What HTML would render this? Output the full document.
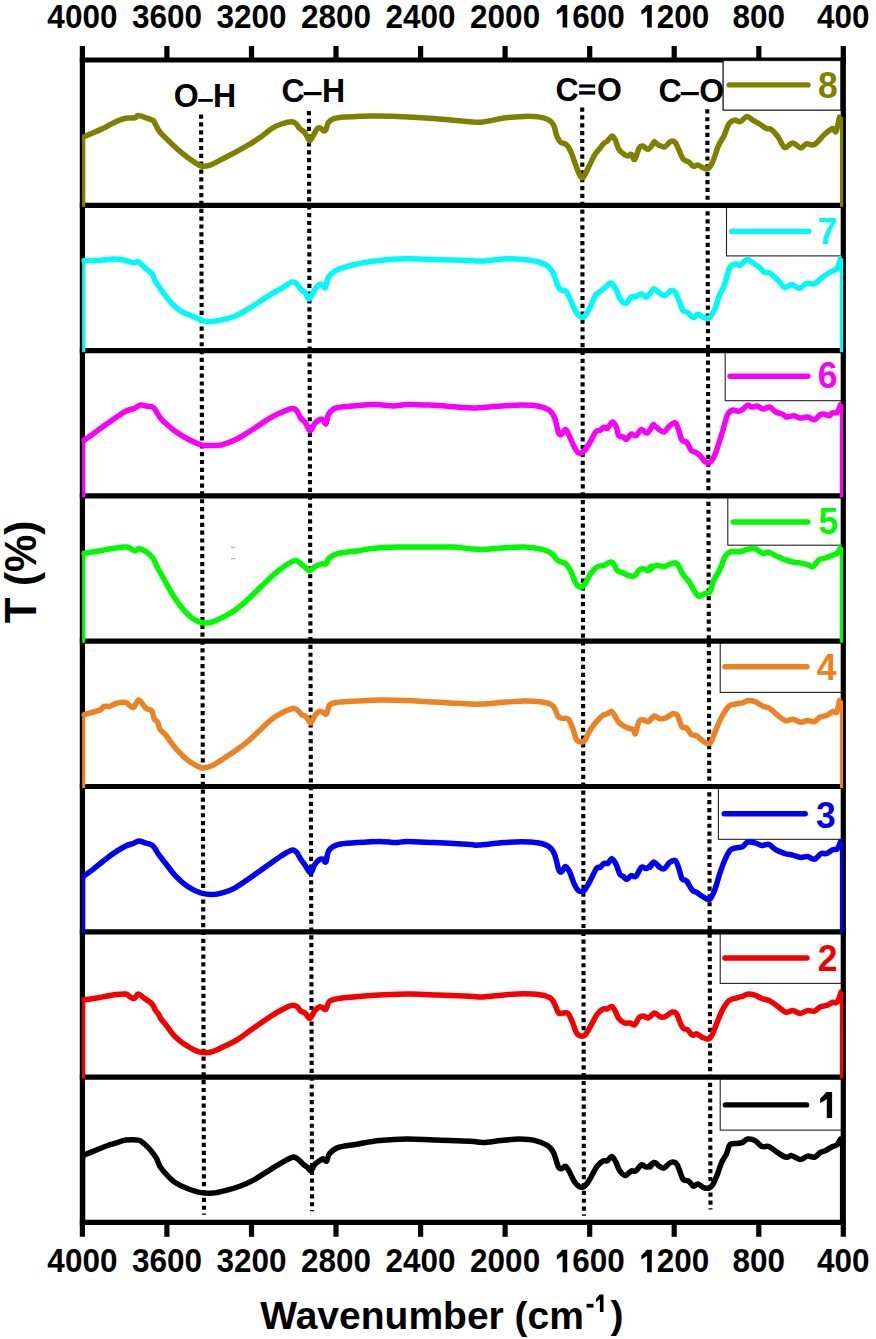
<!DOCTYPE html>
<html><head><meta charset="utf-8"><title>FTIR spectra</title>
<style>
html,body{margin:0;padding:0;background:#fff;width:876px;height:1339px;overflow:hidden}
svg{display:block}
text{font-family:"Liberation Sans",sans-serif;font-weight:bold}
</style></head><body>
<svg width="876" height="1339" viewBox="0 0 876 1339">
<rect width="876" height="1339" fill="#fff"/>
<g class="t">
<text transform="translate(82.40,27.50) scale(1,1.03)" font-size="31.5" fill="#000" text-anchor="middle">4000</text>
<text transform="translate(82.40,1272.30) scale(1,1.03)" font-size="31.5" fill="#000" text-anchor="middle">4000</text>
<text transform="translate(166.94,27.50) scale(1,1.03)" font-size="31.5" fill="#000" text-anchor="middle">3600</text>
<text transform="translate(166.94,1272.30) scale(1,1.03)" font-size="31.5" fill="#000" text-anchor="middle">3600</text>
<text transform="translate(251.49,27.50) scale(1,1.03)" font-size="31.5" fill="#000" text-anchor="middle">3200</text>
<text transform="translate(251.49,1272.30) scale(1,1.03)" font-size="31.5" fill="#000" text-anchor="middle">3200</text>
<text transform="translate(336.03,27.50) scale(1,1.03)" font-size="31.5" fill="#000" text-anchor="middle">2800</text>
<text transform="translate(336.03,1272.30) scale(1,1.03)" font-size="31.5" fill="#000" text-anchor="middle">2800</text>
<text transform="translate(420.58,27.50) scale(1,1.03)" font-size="31.5" fill="#000" text-anchor="middle">2400</text>
<text transform="translate(420.58,1272.30) scale(1,1.03)" font-size="31.5" fill="#000" text-anchor="middle">2400</text>
<text transform="translate(505.12,27.50) scale(1,1.03)" font-size="31.5" fill="#000" text-anchor="middle">2000</text>
<text transform="translate(505.12,1272.30) scale(1,1.03)" font-size="31.5" fill="#000" text-anchor="middle">2000</text>
<path d="M556.83,10.55 Q560.34,7.61 562.15,4.90 L567.23,4.90 L567.23,27.50 L562.60,27.50 L562.60,11.00 Q559.44,13.49 556.83,14.62 Z" fill="#000"/>
<text transform="translate(572.15,27.50) scale(1,1.03)" font-size="31.5" fill="#000">600</text>
<path d="M556.83,1255.35 Q560.34,1252.41 562.15,1249.70 L567.23,1249.70 L567.23,1272.30 L562.60,1272.30 L562.60,1255.80 Q559.44,1258.29 556.83,1259.42 Z" fill="#000"/>
<text transform="translate(572.15,1272.30) scale(1,1.03)" font-size="31.5" fill="#000">600</text>
<path d="M641.38,10.55 Q644.88,7.61 646.69,4.90 L651.78,4.90 L651.78,27.50 L647.14,27.50 L647.14,11.00 Q643.98,13.49 641.38,14.62 Z" fill="#000"/>
<text transform="translate(656.69,27.50) scale(1,1.03)" font-size="31.5" fill="#000">200</text>
<path d="M641.38,1255.35 Q644.88,1252.41 646.69,1249.70 L651.78,1249.70 L651.78,1272.30 L647.14,1272.30 L647.14,1255.80 Q643.98,1258.29 641.38,1259.42 Z" fill="#000"/>
<text transform="translate(656.69,1272.30) scale(1,1.03)" font-size="31.5" fill="#000">200</text>
<text transform="translate(758.76,27.50) scale(1,1.03)" font-size="31.5" fill="#000" text-anchor="middle">800</text>
<text transform="translate(758.76,1272.30) scale(1,1.03)" font-size="31.5" fill="#000" text-anchor="middle">800</text>
<text transform="translate(843.30,27.50) scale(1,1.03)" font-size="31.5" fill="#000" text-anchor="middle">400</text>
<text transform="translate(843.30,1272.30) scale(1,1.03)" font-size="31.5" fill="#000" text-anchor="middle">400</text>
</g>
<rect x="723.2" y="60.0" width="120.1" height="50.1" fill="#fff" stroke="#222" stroke-width="1.1"/>
<rect x="726.5" y="205.3" width="116.8" height="50.6" fill="#fff" stroke="#222" stroke-width="1.1"/>
<rect x="725.2" y="350.6" width="118.1" height="50.1" fill="#fff" stroke="#222" stroke-width="1.1"/>
<rect x="727.8" y="495.9" width="115.5" height="49.3" fill="#fff" stroke="#222" stroke-width="1.1"/>
<rect x="720.2" y="641.2" width="123.1" height="51.2" fill="#fff" stroke="#222" stroke-width="1.1"/>
<rect x="718.4" y="786.5" width="124.9" height="52.8" fill="#fff" stroke="#222" stroke-width="1.1"/>
<rect x="720.2" y="931.8" width="123.1" height="51.6" fill="#fff" stroke="#222" stroke-width="1.1"/>
<rect x="720.2" y="1077.1" width="123.1" height="53.0" fill="#fff" stroke="#222" stroke-width="1.1"/>
<rect x="231.00" y="546.80" width="4.20" height="1.30" fill="#b4b4b4"/>
<rect x="231.00" y="557.90" width="4.20" height="1.30" fill="#b4b4b4"/>
<line x1="201.1" y1="114.5" x2="204.0" y2="1214.7" stroke="#000" stroke-width="4.1" stroke-dasharray="4.2 3.65"/>
<line x1="308.9" y1="111.0" x2="312.1" y2="1211.2" stroke="#000" stroke-width="4.1" stroke-dasharray="4.2 3.65"/>
<line x1="582.2" y1="107.5" x2="583.9" y2="1215.7" stroke="#000" stroke-width="4.1" stroke-dasharray="4.2 3.65"/>
<line x1="707.3" y1="109.3" x2="710.5" y2="1209.5" stroke="#000" stroke-width="4.1" stroke-dasharray="4.2 3.65"/>
<line x1="79.8" y1="60.0" x2="845.9" y2="60.0" stroke="#000" stroke-width="5.2"/>
<line x1="79.8" y1="205.3" x2="845.9" y2="205.3" stroke="#000" stroke-width="5.2"/>
<line x1="79.8" y1="350.6" x2="845.9" y2="350.6" stroke="#000" stroke-width="5.2"/>
<line x1="79.8" y1="495.9" x2="845.9" y2="495.9" stroke="#000" stroke-width="5.2"/>
<line x1="79.8" y1="641.2" x2="845.9" y2="641.2" stroke="#000" stroke-width="5.2"/>
<line x1="79.8" y1="786.5" x2="845.9" y2="786.5" stroke="#000" stroke-width="5.2"/>
<line x1="79.8" y1="931.8" x2="845.9" y2="931.8" stroke="#000" stroke-width="5.2"/>
<line x1="79.8" y1="1077.1" x2="845.9" y2="1077.1" stroke="#000" stroke-width="5.2"/>
<line x1="79.8" y1="1222.4" x2="845.9" y2="1222.4" stroke="#000" stroke-width="5.2"/>
<line x1="82.4" y1="46.0" x2="82.4" y2="1236.8000000000002" stroke="#000" stroke-width="5.2"/>
<line x1="843.3" y1="46.0" x2="843.3" y2="1236.8000000000002" stroke="#000" stroke-width="5.2"/>
<line x1="166.9" y1="46.0" x2="166.9" y2="60.0" stroke="#000" stroke-width="5.2"/>
<line x1="166.9" y1="1222.4" x2="166.9" y2="1236.8000000000002" stroke="#000" stroke-width="5.2"/>
<line x1="251.5" y1="46.0" x2="251.5" y2="60.0" stroke="#000" stroke-width="5.2"/>
<line x1="251.5" y1="1222.4" x2="251.5" y2="1236.8000000000002" stroke="#000" stroke-width="5.2"/>
<line x1="336.0" y1="46.0" x2="336.0" y2="60.0" stroke="#000" stroke-width="5.2"/>
<line x1="336.0" y1="1222.4" x2="336.0" y2="1236.8000000000002" stroke="#000" stroke-width="5.2"/>
<line x1="420.6" y1="46.0" x2="420.6" y2="60.0" stroke="#000" stroke-width="5.2"/>
<line x1="420.6" y1="1222.4" x2="420.6" y2="1236.8000000000002" stroke="#000" stroke-width="5.2"/>
<line x1="505.1" y1="46.0" x2="505.1" y2="60.0" stroke="#000" stroke-width="5.2"/>
<line x1="505.1" y1="1222.4" x2="505.1" y2="1236.8000000000002" stroke="#000" stroke-width="5.2"/>
<line x1="589.7" y1="46.0" x2="589.7" y2="60.0" stroke="#000" stroke-width="5.2"/>
<line x1="589.7" y1="1222.4" x2="589.7" y2="1236.8000000000002" stroke="#000" stroke-width="5.2"/>
<line x1="674.2" y1="46.0" x2="674.2" y2="60.0" stroke="#000" stroke-width="5.2"/>
<line x1="674.2" y1="1222.4" x2="674.2" y2="1236.8000000000002" stroke="#000" stroke-width="5.2"/>
<line x1="758.8" y1="46.0" x2="758.8" y2="60.0" stroke="#000" stroke-width="5.2"/>
<line x1="758.8" y1="1222.4" x2="758.8" y2="1236.8000000000002" stroke="#000" stroke-width="5.2"/>
<rect x="723.2" y="60.6" width="117.5" height="49.5" fill="#fff" stroke="#222" stroke-width="1.1"/>
<path d="M83.7,206.8 L83.7,134.9" fill="none" stroke="#808000" stroke-width="3.2"/>
<path d="M841.5,206.8 L841.5,117.1" fill="none" stroke="#808000" stroke-width="3.2"/>
<path d="M85.7,136.5 L84.6,136.5 C87.6,135.2 97.9,130.9 102.8,128.5 C107.8,126.2 110.4,124.1 114.2,122.4 C118.1,120.7 122.2,119.0 125.7,118.3 C129.1,117.5 132.7,118.3 134.8,117.8 C136.9,117.4 136.3,115.5 138.2,115.5 C140.1,115.5 143.7,117.0 146.2,117.8 C148.7,118.6 151.5,119.5 153.1,120.5 C154.6,121.6 154.2,122.1 155.3,124.0 C156.5,125.9 157.2,128.7 159.9,132.0 C162.6,135.2 167.5,139.8 171.3,143.4 C175.1,147.0 178.9,150.5 182.7,153.7 C186.5,156.8 190.9,160.0 194.2,162.1 C197.4,164.2 199.5,165.7 202.1,166.2 C204.8,166.7 206.9,166.2 210.1,165.1 C213.4,163.9 216.6,161.9 221.6,159.4 C226.5,156.8 233.7,153.2 239.8,149.8 C245.9,146.3 252.8,142.4 258.1,138.8 C263.4,135.3 267.9,131.0 271.8,128.5 C275.7,126.1 278.1,125.1 281.4,124.0 C284.7,122.8 289.2,121.7 291.7,121.7 C294.2,121.7 294.9,122.8 296.3,124.0 C297.6,125.1 298.3,127.2 299.7,128.5 C301.0,129.9 302.9,130.4 304.2,132.0 C305.6,133.5 306.7,136.2 307.7,137.7 C308.6,139.1 309.0,141.0 310.0,140.6 C310.9,140.3 312.2,137.3 313.4,135.4 C314.5,133.5 315.7,130.5 316.8,129.2 C317.9,128.0 319.1,127.6 320.2,127.9 C321.4,128.1 322.7,130.5 323.7,130.8 C324.6,131.1 325.2,131.0 325.9,129.7 C326.7,128.3 326.9,124.7 328.2,122.8 C329.6,121.0 331.1,119.7 333.9,118.7 C336.8,117.8 338.9,117.6 345.3,117.1 C351.8,116.7 364.0,116.1 372.7,116.0 C381.5,115.9 388.3,116.1 397.9,116.4 C407.4,116.8 417.8,117.4 429.8,118.3 C441.8,119.1 461.2,121.1 470.0,121.7 C478.8,122.3 476.9,122.6 482.8,121.9 C488.8,121.3 498.8,118.7 505.7,117.8 C512.5,116.9 518.2,116.6 523.9,116.4 C529.6,116.3 535.7,116.5 539.9,117.1 C544.1,117.7 546.8,118.8 549.0,120.1 C551.3,121.4 552.3,122.4 553.6,125.1 C554.9,127.9 555.9,133.7 557.0,136.5 C558.2,139.4 558.9,140.9 560.5,142.2 C562.0,143.6 564.5,143.0 566.2,144.5 C567.9,146.0 569.2,148.1 570.7,151.4 C572.3,154.6 573.8,159.9 575.3,163.9 C576.8,167.9 578.5,173.1 579.9,175.3 C581.2,177.5 582.0,178.3 583.3,177.2 C584.6,176.0 586.0,172.2 587.9,168.5 C589.8,164.8 592.8,158.0 594.7,154.8 C596.6,151.6 597.7,151.0 599.3,149.1 C600.8,147.2 602.5,144.7 603.8,143.4 C605.2,142.0 605.9,142.3 607.3,141.1 C608.6,139.9 610.5,136.3 611.8,136.1 C613.2,135.9 614.1,137.8 615.3,140.0 C616.4,142.1 617.3,146.8 618.7,149.1 C620.0,151.4 621.7,152.5 623.2,153.7 C624.8,154.8 626.5,155.8 627.8,155.9 C629.1,156.1 630.1,153.8 631.2,154.3 C632.4,154.9 633.3,160.4 634.7,159.4 C636.0,158.3 637.9,150.2 639.2,147.9 C640.6,145.7 641.1,145.9 642.6,146.1 C644.2,146.3 646.5,149.7 648.4,149.1 C650.3,148.4 653.0,143.4 654.1,142.2 C655.1,141.1 653.7,141.7 654.6,142.2 C655.4,142.7 657.4,144.4 659.1,145.2 C660.8,146.0 662.9,147.4 664.8,146.8 C666.7,146.2 668.8,142.3 670.5,141.6 C672.3,140.8 673.8,141.0 675.1,142.2 C676.4,143.5 677.2,146.3 678.5,149.1 C679.9,151.9 681.4,156.7 683.1,158.9 C684.8,161.1 687.1,160.9 688.8,162.1 C690.5,163.3 691.9,165.7 693.4,166.2 C694.9,166.7 696.2,164.8 697.9,165.1 C699.7,165.4 701.9,167.5 703.7,168.0 C705.4,168.6 706.7,169.6 708.2,168.5 C709.7,167.4 711.1,165.4 712.8,161.6 C714.5,157.8 716.6,150.0 718.5,145.7 C720.4,141.3 722.5,139.0 724.2,135.4 C725.9,131.8 727.1,126.5 728.8,124.0 C730.5,121.4 732.6,120.5 734.5,120.1 C736.4,119.7 738.1,122.3 740.2,121.7 C742.3,121.1 744.9,116.7 747.0,116.4 C749.1,116.2 750.6,118.8 752.7,120.1 C754.8,121.3 757.3,122.6 759.6,124.0 C761.9,125.4 764.5,127.7 766.4,128.5 C768.3,129.4 769.1,127.9 771.0,129.2 C772.9,130.6 775.6,133.5 777.9,136.5 C780.1,139.6 782.2,146.4 784.7,147.5 C787.2,148.6 790.0,142.8 792.7,142.9 C795.4,143.0 798.4,147.8 800.7,147.9 C803.0,148.1 804.1,144.4 806.4,143.8 C808.7,143.3 811.3,146.1 814.4,144.5 C817.4,142.9 821.6,136.9 824.7,134.2 C827.7,131.6 830.7,129.0 832.6,128.5 C834.6,128.1 834.9,133.4 836.1,131.5 C837.2,129.6 838.9,119.5 839.5,117.1 L841.5,117.1" fill="none" stroke="#808000" stroke-width="5.5" stroke-linejoin="round" stroke-linecap="butt"/>
<path d="M83.7,352.1 L83.7,258.9" fill="none" stroke="#00FAFA" stroke-width="3.2"/>
<path d="M841.5,352.1 L841.5,258.3" fill="none" stroke="#00FAFA" stroke-width="3.2"/>
<path d="M85.7,260.5 L84.1,260.5 C86.5,260.5 93.2,260.8 98.3,260.5 C103.3,260.3 109.7,258.9 114.2,258.9 C118.8,258.9 122.4,259.9 125.7,260.5 C128.9,261.2 131.6,262.6 133.7,262.8 C135.7,263.0 136.5,261.0 138.2,261.7 C139.9,262.4 141.6,264.9 143.9,266.9 C146.2,269.0 150.0,271.4 151.9,273.8 C153.8,276.1 153.6,278.2 155.3,281.1 C157.1,284.0 159.5,287.8 162.2,291.4 C164.9,295.0 168.3,299.6 171.3,302.8 C174.4,306.0 177.0,308.6 180.5,310.8 C183.9,313.0 188.4,314.5 191.9,316.0 C195.3,317.5 198.2,319.0 201.0,319.9 C203.9,320.9 205.6,321.7 209.0,321.7 C212.4,321.7 217.2,320.9 221.6,319.9 C225.9,319.0 230.7,317.9 235.3,316.0 C239.8,314.1 243.2,312.0 248.9,308.5 C254.7,305.0 264.6,298.1 270.0,294.8 C275.4,291.4 277.8,290.5 281.4,288.4 C285.0,286.3 289.2,283.1 291.7,282.2 C294.2,281.4 294.7,282.2 296.3,283.4 C297.8,284.5 299.3,287.5 300.8,289.1 C302.3,290.7 304.0,291.3 305.4,293.0 C306.8,294.6 307.9,299.1 309.3,298.9 C310.6,298.8 311.9,294.3 313.4,292.1 C314.8,289.8 316.5,286.9 317.9,285.7 C319.4,284.4 320.8,284.1 322.1,284.5 C323.3,284.9 324.2,289.1 325.3,287.9 C326.3,286.8 326.6,280.5 328.2,277.7 C329.9,274.8 331.8,272.7 335.1,270.8 C338.3,268.9 342.5,267.7 347.6,266.3 C352.8,264.8 359.0,263.5 365.9,262.4 C372.7,261.3 381.9,260.2 388.7,259.6 C395.6,259.0 399.4,258.8 407.0,258.7 C414.6,258.7 423.9,259.1 434.4,259.4 C444.9,259.7 461.9,260.3 470.0,260.5 C478.1,260.8 476.9,261.3 482.8,261.0 C488.8,260.7 498.8,259.0 505.7,258.7 C512.5,258.5 518.6,258.9 523.9,259.4 C529.3,259.9 533.6,260.5 537.6,261.7 C541.6,262.8 545.2,264.2 547.9,266.3 C550.6,268.3 551.9,270.8 553.6,274.2 C555.3,277.7 556.8,284.1 558.2,286.8 C559.5,289.5 560.3,289.5 561.6,290.2 C562.9,291.0 564.6,289.7 566.2,291.4 C567.7,293.1 569.2,297.3 570.7,300.5 C572.3,303.7 573.8,308.1 575.3,310.8 C576.8,313.4 578.3,315.5 579.9,316.5 C581.4,317.4 582.7,318.0 584.4,316.5 C586.1,315.0 588.2,311.0 590.1,307.4 C592.0,303.7 594.1,297.5 595.8,294.8 C597.6,292.1 598.9,292.6 600.4,291.4 C601.9,290.2 603.3,288.9 605.0,287.5 C606.7,286.1 609.0,282.8 610.7,282.9 C612.4,283.0 613.7,285.4 615.3,287.9 C616.8,290.5 618.1,295.6 619.8,298.2 C621.5,300.8 623.6,303.7 625.5,303.5 C627.4,303.3 629.5,298.2 631.2,297.1 C632.9,295.9 634.1,297.2 635.8,296.6 C637.5,296.1 639.8,293.6 641.5,293.7 C643.2,293.7 644.2,297.7 646.1,297.1 C648.0,296.4 651.5,291.1 652.9,289.8 C654.3,288.4 653.5,288.6 654.6,289.1 C655.6,289.5 657.4,291.4 659.1,292.5 C660.8,293.7 662.9,296.2 664.8,295.9 C666.7,295.6 668.8,291.3 670.5,290.7 C672.3,290.0 673.8,290.6 675.1,292.1 C676.4,293.5 677.2,296.2 678.5,299.4 C679.9,302.5 681.6,308.6 683.1,310.8 C684.6,313.0 686.0,311.5 687.7,312.6 C689.4,313.7 691.7,317.4 693.4,317.6 C695.1,317.9 696.2,314.2 697.9,314.2 C699.7,314.2 701.8,317.1 703.7,317.6 C705.6,318.2 707.5,319.1 709.4,317.6 C711.3,316.1 713.4,312.3 715.1,308.5 C716.8,304.7 718.1,298.6 719.6,294.8 C721.2,291.0 722.5,290.2 724.2,285.7 C725.9,281.1 728.0,271.0 729.9,267.4 C731.8,263.8 733.9,264.4 735.6,264.0 C737.3,263.6 738.3,265.9 740.2,265.1 C742.1,264.4 744.9,259.8 747.0,259.4 C749.1,259.0 750.6,261.5 752.7,262.8 C754.8,264.2 757.7,265.9 759.6,267.4 C761.5,268.9 762.4,271.0 764.2,272.0 C765.9,272.9 767.6,271.8 769.9,273.1 C772.1,274.4 775.4,277.6 777.9,280.0 C780.3,282.4 782.4,286.7 784.7,287.5 C787.0,288.2 789.1,284.4 791.6,284.5 C794.0,284.7 797.1,288.6 799.5,288.4 C802.0,288.2 803.9,284.1 806.4,283.4 C808.9,282.6 811.5,285.0 814.4,283.8 C817.2,282.7 820.5,278.7 823.5,276.5 C826.6,274.4 830.4,272.2 832.6,270.8 C834.9,269.5 835.9,270.6 837.2,268.5 C838.5,266.4 840.1,260.0 840.6,258.3 L841.5,258.3" fill="none" stroke="#00FAFA" stroke-width="5.5" stroke-linejoin="round" stroke-linecap="butt"/>
<path d="M83.7,497.4 L83.7,438.7" fill="none" stroke="#FA00FA" stroke-width="3.2"/>
<path d="M841.5,497.4 L841.5,404.4" fill="none" stroke="#FA00FA" stroke-width="3.2"/>
<path d="M85.7,440.3 L84.1,440.3 C85.7,439.1 90.6,435.6 93.7,433.4 C96.8,431.2 99.4,429.2 102.8,426.8 C106.3,424.3 110.4,421.4 114.2,418.8 C118.1,416.2 122.2,413.0 125.7,411.3 C129.1,409.5 132.4,409.3 134.8,408.3 C137.2,407.3 137.9,405.5 139.8,405.1 C141.7,404.7 144.0,405.6 146.2,406.0 C148.4,406.4 151.3,406.4 153.1,407.4 C154.8,408.4 155.3,410.3 156.5,411.9 C157.6,413.6 158.2,415.4 159.9,417.4 C161.6,419.5 164.1,421.9 166.8,424.3 C169.4,426.7 172.5,429.4 175.9,431.8 C179.3,434.2 183.1,436.5 187.3,438.7 C191.5,440.8 196.8,443.7 201.0,444.8 C205.2,446.0 209.0,445.5 212.4,445.5 C215.8,445.5 217.7,445.8 221.6,444.8 C225.4,443.9 230.7,442.0 235.3,439.8 C239.8,437.6 243.2,435.4 248.9,431.8 C254.7,428.2 264.6,421.3 270.0,418.1 C275.4,414.9 277.8,414.0 281.4,412.4 C285.0,410.8 289.2,408.9 291.7,408.5 C294.2,408.1 294.7,408.5 296.3,410.1 C297.8,411.7 299.3,416.0 300.8,418.1 C302.3,420.2 303.9,420.6 305.4,422.7 C306.9,424.8 308.4,430.5 310.0,430.7 C311.5,430.9 313.0,425.6 314.5,423.8 C316.0,422.0 317.7,420.4 319.1,419.7 C320.5,419.0 321.8,419.0 323.0,419.7 C324.1,420.4 324.9,424.8 325.9,423.8 C326.9,422.8 327.2,416.2 328.9,413.5 C330.6,410.9 332.3,409.1 336.2,407.8 C340.1,406.6 345.7,406.6 352.2,406.0 C358.7,405.4 368.2,404.4 375.0,404.4 C381.9,404.4 388.0,406.0 393.3,406.0 C398.6,406.0 400.9,404.6 407.0,404.4 C413.1,404.3 419.3,404.5 429.8,405.1 C440.3,405.7 461.9,407.4 470.0,407.8 C478.1,408.3 473.1,408.1 478.3,407.8 C483.4,407.5 493.9,406.5 501.1,406.0 C508.3,405.5 515.6,404.9 521.6,404.9 C527.7,404.9 533.1,405.1 537.6,406.0 C542.2,406.9 546.2,408.1 549.0,410.1 C551.9,412.1 553.2,414.3 554.7,418.1 C556.3,421.9 557.5,430.3 558.6,432.9 C559.8,435.6 560.5,434.7 561.6,434.1 C562.7,433.5 564.1,429.1 565.5,429.5 C566.8,429.9 568.1,433.5 569.6,436.4 C571.0,439.2 572.6,443.9 574.2,446.6 C575.7,449.4 577.0,452.4 578.7,453.0 C580.4,453.7 582.5,452.6 584.4,450.8 C586.3,448.9 588.2,445.2 590.1,442.1 C592.0,438.9 594.1,433.8 595.8,431.8 C597.6,429.8 599.1,431.0 600.4,430.2 C601.7,429.4 602.7,427.5 603.8,427.2 C605.0,426.9 605.8,429.3 607.3,428.4 C608.7,427.5 611.0,422.2 612.5,422.0 C614.0,421.8 615.4,425.0 616.4,427.2 C617.4,429.5 617.5,434.0 618.7,435.7 C619.8,437.3 621.9,436.4 623.2,437.1 C624.6,437.7 625.3,439.8 626.7,439.3 C628.0,438.8 629.7,434.7 631.2,434.1 C632.8,433.5 634.1,436.4 635.8,435.7 C637.5,434.9 639.6,430.0 641.5,429.5 C643.4,429.1 645.3,433.7 647.2,432.9 C649.1,432.2 651.7,426.2 652.9,425.0 C654.1,423.7 653.5,424.9 654.6,425.6 C655.6,426.4 657.5,428.5 659.1,429.5 C660.7,430.5 662.4,432.4 664.2,431.8 C665.9,431.2 667.6,427.6 669.4,426.1 C671.2,424.6 673.6,422.1 675.1,422.7 C676.6,423.2 677.4,426.6 678.5,429.5 C679.7,432.5 680.6,438.2 682.0,440.3 C683.3,442.3 685.0,440.4 686.5,442.1 C688.1,443.7 689.6,448.4 691.1,450.1 C692.6,451.8 694.1,451.4 695.7,452.4 C697.2,453.3 698.7,454.3 700.2,455.8 C701.8,457.3 703.3,460.3 704.8,461.5 C706.3,462.6 707.8,463.4 709.4,462.6 C710.9,461.9 712.4,460.0 713.9,456.9 C715.4,453.9 717.0,448.9 718.5,444.4 C720.0,439.8 721.5,434.5 723.1,429.5 C724.6,424.6 726.1,417.9 727.6,414.7 C729.1,411.4 730.5,410.7 732.2,410.1 C733.9,409.5 736.2,411.3 737.9,411.3 C739.6,411.2 740.8,410.7 742.5,409.7 C744.1,408.6 746.2,405.5 747.7,405.1 C749.2,404.7 750.0,407.0 751.6,407.1 C753.2,407.3 755.4,405.7 757.3,406.0 C759.2,406.3 760.9,408.8 763.0,409.0 C765.1,409.2 767.8,406.7 769.9,407.1 C772.0,407.6 773.5,410.8 775.6,411.9 C777.7,413.1 780.5,413.4 782.4,414.2 C784.3,415.1 785.1,416.7 787.0,417.0 C788.9,417.2 791.6,415.6 793.8,415.8 C796.1,416.0 798.4,417.9 800.7,418.1 C803.0,418.3 805.3,416.7 807.5,417.0 C809.8,417.2 812.3,420.1 814.4,419.7 C816.5,419.3 818.4,415.6 820.1,414.7 C821.8,413.8 823.1,414.0 824.7,414.2 C826.2,414.4 827.9,416.1 829.2,415.8 C830.6,415.6 831.3,413.4 832.6,412.9 C834.0,412.3 835.9,413.8 837.2,412.4 C838.5,411.0 840.1,405.7 840.6,404.4 L841.5,404.4" fill="none" stroke="#FA00FA" stroke-width="5.5" stroke-linejoin="round" stroke-linecap="butt"/>
<path d="M83.7,642.7 L83.7,551.7" fill="none" stroke="#00FA00" stroke-width="3.2"/>
<path d="M841.5,642.7 L841.5,547.1" fill="none" stroke="#00FA00" stroke-width="3.2"/>
<path d="M85.7,553.3 L84.1,553.3 C86.5,552.9 93.2,551.8 98.3,551.0 C103.3,550.2 109.5,548.9 114.2,548.3 C119.0,547.6 123.4,546.7 126.8,547.1 C130.2,547.5 132.7,550.3 134.8,550.5 C136.9,550.8 137.5,548.5 139.4,548.7 C141.3,548.9 143.9,550.1 146.2,551.7 C148.5,553.3 151.2,555.9 153.1,558.5 C155.0,561.2 155.7,564.1 157.6,567.7 C159.5,571.3 161.8,575.5 164.5,580.2 C167.1,585.0 170.6,591.5 173.6,596.2 C176.7,601.0 179.7,605.2 182.7,608.8 C185.8,612.4 188.8,615.6 191.9,617.9 C194.9,620.2 198.0,621.7 201.0,622.5 C204.0,623.2 206.7,623.2 210.1,622.5 C213.6,621.7 217.4,620.0 221.6,617.9 C225.7,615.8 230.7,613.1 235.3,609.9 C239.8,606.7 243.2,603.8 248.9,598.5 C254.7,593.2 264.6,583.0 270.0,577.9 C275.4,572.9 277.4,571.2 281.4,568.4 C285.4,565.5 291.1,561.9 294.0,560.8 C296.8,559.8 296.8,561.0 298.5,562.0 C300.3,562.9 302.5,565.1 304.2,566.5 C306.0,568.0 307.6,570.6 309.3,570.6 C311.0,570.7 312.5,568.1 314.5,567.0 C316.5,565.8 319.5,564.3 321.4,563.8 C323.3,563.3 324.6,564.8 325.9,563.8 C327.3,562.8 327.3,559.6 329.4,557.9 C331.5,556.1 333.9,554.4 338.5,553.3 C343.1,552.1 350.7,551.8 356.8,551.0 C362.8,550.2 368.2,548.9 375.0,548.3 C381.9,547.6 389.5,547.3 397.9,547.1 C406.2,546.9 416.1,547.1 425.3,547.1 C434.4,547.1 445.2,546.9 452.6,547.1 C460.1,547.4 465.0,548.3 470.0,548.7 C475.0,549.1 476.9,549.6 482.8,549.4 C488.8,549.3 498.8,548.2 505.7,547.8 C512.5,547.4 517.8,546.9 523.9,547.1 C530.0,547.4 537.6,548.4 542.2,549.4 C546.8,550.4 548.7,551.4 551.3,553.3 C554.0,555.2 555.9,559.2 558.2,560.8 C560.5,562.5 562.9,561.4 565.0,563.1 C567.1,564.8 569.0,567.9 570.7,571.1 C572.4,574.3 573.8,579.4 575.3,582.1 C576.8,584.7 578.3,586.6 579.9,587.1 C581.4,587.5 582.7,586.9 584.4,584.8 C586.1,582.7 588.0,577.5 590.1,574.5 C592.2,571.6 594.7,568.5 597.0,567.0 C599.3,565.5 601.4,566.2 603.8,565.4 C606.3,564.6 609.5,561.1 611.8,562.0 C614.1,562.8 615.6,568.8 617.5,570.6 C619.4,572.5 621.3,572.1 623.2,572.9 C625.1,573.8 627.0,575.2 628.9,575.7 C630.9,576.1 632.9,576.6 634.7,575.7 C636.4,574.7 637.7,571.1 639.2,570.0 C640.7,568.8 642.3,568.7 643.8,568.8 C645.3,568.9 646.6,571.1 648.4,570.6 C650.1,570.2 653.8,566.7 654.1,566.1 C654.3,565.5 649.5,567.1 650.0,567.0 C650.5,566.9 654.6,565.5 656.8,565.4 C659.1,565.3 661.0,566.9 663.7,566.5 C666.4,566.1 670.5,563.5 672.8,563.1 C675.1,562.7 675.7,562.3 677.4,564.2 C679.1,566.1 681.2,571.7 683.1,574.5 C685.0,577.4 686.9,578.6 688.8,581.4 C690.7,584.1 692.8,588.7 694.5,591.2 C696.2,593.7 697.4,595.8 699.1,596.2 C700.8,596.6 703.0,594.2 704.8,593.5 C706.6,592.8 708.3,594.3 709.8,592.1 C711.3,589.9 712.3,583.9 713.9,580.2 C715.6,576.5 717.7,573.9 719.6,570.0 C721.5,566.0 723.4,559.3 725.3,556.3 C727.2,553.2 728.6,552.5 731.1,551.7 C733.5,550.9 737.5,552.1 740.2,551.7 C742.8,551.3 744.6,549.9 747.0,549.4 C749.5,548.9 752.4,548.1 755.0,548.7 C757.7,549.4 760.7,552.7 763.0,553.3 C765.3,553.9 766.4,551.7 768.7,552.1 C771.0,552.6 774.0,555.0 776.7,556.3 C779.4,557.5 782.0,558.7 784.7,559.7 C787.4,560.6 790.0,561.4 792.7,562.0 C795.4,562.5 798.2,562.6 800.7,563.1 C803.2,563.6 805.4,564.1 807.5,564.7 C809.6,565.3 811.3,567.4 813.2,566.5 C815.1,565.7 816.9,561.1 818.9,559.7 C821.0,558.2 823.5,558.6 825.8,557.9 C828.1,557.1 830.7,556.0 832.6,555.1 C834.6,554.3 836.3,554.2 837.7,552.8 C839.0,551.5 840.1,548.1 840.6,547.1 L841.5,547.1" fill="none" stroke="#00FA00" stroke-width="5.5" stroke-linejoin="round" stroke-linecap="butt"/>
<path d="M83.7,788.0 L83.7,713.1" fill="none" stroke="#ED8225" stroke-width="3.2"/>
<path d="M841.5,788.0 L841.5,700.5" fill="none" stroke="#ED8225" stroke-width="3.2"/>
<path d="M85.7,714.7 L84.1,714.7 C85.7,714.2 91.0,712.8 93.7,712.0 C96.4,711.1 98.8,710.6 100.5,709.7 C102.3,708.7 102.5,706.8 104.0,706.3 C105.5,705.7 107.6,706.8 109.7,706.3 C111.8,705.8 113.9,703.9 116.5,703.3 C119.2,702.6 123.6,702.1 125.7,702.4 C127.8,702.7 127.8,704.3 129.1,705.1 C130.4,706.0 132.1,708.2 133.7,707.4 C135.2,706.6 136.9,700.9 138.2,700.1 C139.6,699.3 140.3,701.4 141.6,702.8 C143.0,704.2 144.5,707.2 146.2,708.5 C147.9,709.9 150.6,709.1 151.9,710.8 C153.2,712.5 153.2,716.9 154.2,718.8 C155.2,720.7 156.7,720.5 157.6,722.2 C158.6,723.9 158.6,727.0 159.9,729.1 C161.2,731.2 163.7,732.5 165.6,734.8 C167.5,737.1 169.2,740.0 171.3,742.8 C173.4,745.5 175.5,748.4 178.2,751.2 C180.8,754.1 184.3,757.5 187.3,759.9 C190.4,762.3 193.8,764.3 196.4,765.6 C199.1,766.9 200.6,767.9 203.3,767.9 C206.0,767.9 209.4,766.9 212.4,765.6 C215.5,764.3 217.7,762.4 221.6,759.9 C225.4,757.4 230.7,754.0 235.3,750.8 C239.8,747.5 243.2,745.5 248.9,740.5 C254.7,735.5 264.6,725.2 270.0,720.6 C275.4,716.1 277.6,715.1 281.4,713.1 C285.2,711.1 290.2,709.0 292.8,708.5 C295.5,708.0 295.9,709.1 297.4,710.1 C298.9,711.2 300.4,713.6 302.0,714.7 C303.5,715.8 305.1,715.6 306.5,717.0 C308.0,718.4 309.3,723.1 310.6,722.9 C312.0,722.8 313.1,718.0 314.5,716.1 C315.9,714.2 317.7,712.1 319.1,711.5 C320.5,710.9 321.7,712.0 323.0,712.4 C324.2,712.8 325.5,715.1 326.6,713.8 C327.8,712.5 327.8,706.6 329.8,704.7 C331.8,702.7 334.0,702.8 338.5,702.1 C343.0,701.5 349.9,701.3 356.8,701.0 C363.6,700.7 371.2,700.2 379.6,700.1 C388.0,700.0 397.9,700.2 407.0,700.5 C416.1,700.9 423.9,701.6 434.4,702.1 C444.9,702.7 461.9,703.7 470.0,704.0 C478.1,704.3 476.9,704.3 482.8,704.0 C488.8,703.7 498.8,702.6 505.7,702.1 C512.5,701.7 518.2,701.1 523.9,701.0 C529.6,700.9 535.5,701.2 539.9,701.7 C544.3,702.2 547.7,702.8 550.2,704.0 C552.7,705.1 553.4,706.4 554.7,708.5 C556.1,710.6 556.8,714.9 558.2,716.5 C559.5,718.2 561.0,717.9 562.7,718.4 C564.5,718.8 566.7,717.5 568.4,719.3 C570.2,721.1 571.7,725.7 573.0,729.1 C574.3,732.4 575.1,737.2 576.4,739.4 C577.8,741.5 579.6,742.0 581.0,742.1 C582.5,742.2 583.6,741.8 585.1,739.8 C586.6,737.8 588.2,733.3 590.1,730.2 C592.1,727.1 594.9,723.6 597.0,721.1 C599.1,718.6 601.0,716.6 602.7,715.4 C604.4,714.2 605.7,714.4 607.3,713.8 C608.8,713.1 610.5,711.1 611.8,711.5 C613.2,712.0 614.1,714.7 615.3,716.5 C616.4,718.3 617.3,720.7 618.7,722.2 C620.0,723.8 621.7,724.7 623.2,725.7 C624.8,726.6 626.1,727.3 627.8,727.9 C629.5,728.6 632.3,728.8 633.5,729.8 C634.8,730.7 634.4,735.1 635.3,733.7 C636.3,732.2 637.8,723.4 639.2,721.1 C640.6,718.8 642.3,719.9 643.8,720.0 C645.3,720.0 646.6,722.2 648.4,721.6 C650.1,720.9 653.8,716.3 654.1,716.1 C654.3,715.8 649.9,720.0 650.0,720.0 C650.1,720.0 652.9,716.3 654.6,716.1 C656.3,715.9 658.4,718.5 660.3,718.8 C662.2,719.1 663.9,718.5 666.0,717.7 C668.1,716.8 670.9,714.2 672.8,713.8 C674.7,713.4 675.9,713.2 677.4,715.4 C678.9,717.6 680.4,724.7 682.0,726.8 C683.5,728.9 685.0,726.7 686.5,727.9 C688.1,729.2 689.4,733.0 691.1,734.3 C692.8,735.7 695.1,735.0 696.8,735.9 C698.5,736.8 699.7,738.6 701.4,739.8 C703.1,741.1 705.4,743.2 707.1,743.5 C708.7,743.8 709.7,744.0 711.2,741.6 C712.7,739.2 714.4,733.3 716.2,729.1 C718.0,724.9 719.8,720.3 721.9,716.5 C724.0,712.7 726.5,708.3 728.8,706.3 C731.1,704.2 733.3,704.5 735.6,704.0 C737.9,703.4 740.4,703.4 742.5,702.8 C744.6,702.3 746.1,700.7 748.2,700.5 C750.3,700.4 752.5,700.7 755.0,701.7 C757.5,702.6 760.5,705.1 763.0,706.3 C765.5,707.4 767.4,707.0 769.9,708.5 C772.3,710.1 775.2,713.4 777.9,715.4 C780.5,717.4 783.4,720.0 785.8,720.6 C788.3,721.3 790.2,719.0 792.7,719.3 C795.2,719.5 798.2,722.0 800.7,722.2 C803.2,722.5 805.3,720.8 807.5,720.6 C809.8,720.5 812.3,722.2 814.4,721.6 C816.5,720.9 818.0,718.0 820.1,717.0 C822.2,716.0 824.8,716.3 826.9,715.4 C829.0,714.5 831.0,712.1 832.6,711.5 C834.3,710.9 835.6,713.8 836.8,712.0 C837.9,710.1 839.0,702.5 839.5,700.5 L841.5,700.5" fill="none" stroke="#ED8225" stroke-width="5.5" stroke-linejoin="round" stroke-linecap="butt"/>
<path d="M83.7,933.3 L83.7,874.1" fill="none" stroke="#0000F5" stroke-width="3.2"/>
<path d="M841.5,933.3 L841.5,841.4" fill="none" stroke="#0000F5" stroke-width="3.2"/>
<path d="M85.7,875.7 L84.1,875.7 C85.7,874.5 90.6,871.2 93.7,868.8 C96.8,866.5 99.4,864.2 102.8,861.5 C106.3,858.9 110.4,855.4 114.2,852.9 C118.1,850.3 122.4,847.6 125.7,846.0 C128.9,844.4 131.4,844.1 133.7,843.3 C135.9,842.4 137.0,841.1 138.9,841.0 C140.8,840.9 142.9,842.1 145.1,842.8 C147.2,843.5 150.2,844.1 151.9,845.1 C153.6,846.1 154.2,847.4 155.3,849.0 C156.5,850.6 156.9,852.0 158.8,854.7 C160.7,857.3 163.9,861.3 166.8,865.0 C169.6,868.6 172.5,872.8 175.9,876.4 C179.3,879.9 183.1,883.4 187.3,886.2 C191.5,889.0 196.8,891.6 201.0,893.0 C205.2,894.4 208.6,894.7 212.4,894.6 C216.2,894.5 220.0,893.5 223.8,892.4 C227.6,891.2 231.1,890.1 235.3,887.8 C239.4,885.5 243.2,882.6 248.9,878.7 C254.7,874.7 264.6,867.6 270.0,863.8 C275.4,860.0 277.8,858.1 281.4,855.8 C285.0,853.5 289.2,850.8 291.7,850.1 C294.2,849.5 294.7,850.4 296.3,851.9 C297.8,853.5 299.3,857.0 300.8,859.2 C302.3,861.5 303.8,863.4 305.4,865.6 C307.0,867.9 309.1,873.1 310.6,872.9 C312.2,872.8 313.1,867.2 314.5,865.0 C315.9,862.7 317.7,860.7 319.1,859.7 C320.5,858.8 321.8,858.9 323.0,859.2 C324.1,859.6 324.9,863.4 325.9,862.0 C326.9,860.5 326.8,853.5 328.9,850.6 C331.0,847.6 333.9,845.7 338.5,844.4 C343.1,843.1 349.9,843.1 356.8,842.6 C363.6,842.1 373.1,841.4 379.6,841.4 C386.1,841.4 391.0,842.6 395.6,842.6 C400.1,842.6 400.5,841.4 407.0,841.4 C413.5,841.4 423.9,842.1 434.4,842.6 C444.9,843.1 462.7,844.0 470.0,844.4 C477.3,844.8 473.1,845.4 478.3,845.1 C483.4,844.8 493.9,843.4 501.1,842.8 C508.3,842.2 515.6,841.7 521.6,841.7 C527.7,841.7 533.1,842.0 537.6,842.8 C542.2,843.6 546.2,844.7 549.0,846.7 C551.9,848.7 553.2,850.9 554.7,854.7 C556.3,858.5 557.5,866.7 558.6,869.5 C559.8,872.4 560.5,872.3 561.6,871.8 C562.7,871.3 564.1,866.6 565.5,866.6 C566.8,866.6 568.1,868.9 569.6,871.8 C571.0,874.7 572.6,880.7 574.2,883.9 C575.7,887.1 577.0,889.7 578.7,890.8 C580.4,891.8 582.5,891.7 584.4,890.1 C586.3,888.4 588.1,884.6 590.1,880.9 C592.2,877.3 594.8,870.7 596.5,868.4 C598.2,866.1 599.2,868.1 600.4,867.2 C601.6,866.4 602.6,864.0 603.8,863.4 C605.1,862.7 606.6,864.1 607.9,863.4 C609.3,862.6 610.4,858.5 611.8,858.8 C613.2,859.1 615.1,862.4 616.4,865.0 C617.7,867.5 618.7,872.2 619.8,874.1 C621.0,876.0 622.1,875.5 623.2,876.4 C624.4,877.2 625.3,879.5 626.7,879.3 C628.0,879.2 629.7,876.2 631.2,875.7 C632.8,875.2 634.1,877.8 635.8,876.4 C637.5,875.0 639.7,868.6 641.5,867.2 C643.3,865.9 644.7,869.3 646.8,868.4 C648.8,867.5 653.1,862.2 653.6,862.0 C654.1,861.8 649.8,867.1 650.0,867.2 C650.2,867.4 653.0,862.7 654.6,862.7 C656.2,862.7 658.0,866.2 659.6,867.2 C661.2,868.3 662.5,869.6 664.2,868.8 C665.8,868.1 667.6,864.1 669.4,862.7 C671.2,861.3 673.6,859.6 675.1,860.4 C676.6,861.1 677.4,864.2 678.5,867.2 C679.7,870.3 680.6,876.4 682.0,878.7 C683.3,880.9 684.8,879.0 686.5,880.9 C688.2,882.8 690.5,888.2 692.2,890.1 C693.9,892.0 695.3,891.4 696.8,892.4 C698.3,893.3 699.7,894.6 701.4,895.8 C703.1,896.9 705.6,898.7 707.1,899.2 C708.6,899.7 709.2,900.2 710.5,898.5 C711.8,896.8 713.5,893.0 715.1,888.9 C716.6,884.9 718.1,878.7 719.6,874.1 C721.2,869.5 722.5,865.4 724.2,861.5 C725.9,857.6 728.0,852.9 729.9,850.6 C731.8,848.3 733.5,848.5 735.6,847.8 C737.7,847.2 740.4,847.6 742.5,846.7 C744.5,845.7 745.6,842.8 747.7,842.1 C749.8,841.5 752.7,842.2 755.0,842.8 C757.4,843.4 759.6,845.3 761.9,845.5 C764.2,845.8 766.4,843.7 768.7,844.4 C771.0,845.1 772.9,848.1 775.6,849.7 C778.2,851.2 781.8,852.6 784.7,853.5 C787.6,854.5 790.0,854.5 792.7,855.1 C795.4,855.8 798.2,857.2 800.7,857.4 C803.2,857.6 805.3,856.2 807.5,856.5 C809.8,856.8 812.1,859.7 814.4,859.2 C816.7,858.8 819.1,854.5 821.2,853.5 C823.3,852.6 825.0,854.2 826.9,853.5 C828.8,852.9 830.9,850.4 832.6,849.7 C834.4,848.9 835.9,850.3 837.2,849.0 C838.5,847.6 840.1,842.7 840.6,841.4 L841.5,841.4" fill="none" stroke="#0000F5" stroke-width="5.5" stroke-linejoin="round" stroke-linecap="butt"/>
<path d="M83.7,1078.6 L83.7,998.1" fill="none" stroke="#F50000" stroke-width="3.2"/>
<path d="M841.5,1078.6 L841.5,991.7" fill="none" stroke="#F50000" stroke-width="3.2"/>
<path d="M85.7,999.7 L84.1,999.7 C85.7,999.5 90.6,999.0 93.7,998.5 C96.8,998.1 99.4,997.6 102.8,996.9 C106.3,996.3 110.4,995.2 114.2,994.7 C118.1,994.2 123.0,993.6 125.7,994.0 C128.3,994.4 128.8,996.2 130.2,996.9 C131.7,997.7 133.0,999.0 134.3,998.5 C135.7,998.0 136.6,994.1 138.2,994.0 C139.8,993.9 141.6,996.2 143.9,997.9 C146.2,999.5 150.0,1001.8 151.9,1003.8 C153.8,1005.8 154.2,1008.2 155.3,1010.0 C156.5,1011.7 157.8,1013.0 158.8,1014.5 C159.7,1016.0 159.7,1017.2 161.1,1019.1 C162.4,1021.0 164.7,1023.3 166.8,1025.9 C168.9,1028.6 170.9,1032.2 173.6,1035.1 C176.3,1037.9 179.3,1040.6 182.7,1043.1 C186.2,1045.5 190.7,1048.3 194.2,1049.9 C197.6,1051.5 200.2,1052.3 203.3,1052.6 C206.3,1053.0 209.0,1052.8 212.4,1051.7 C215.8,1050.7 219.6,1048.5 223.8,1046.5 C228.0,1044.5 233.0,1042.4 237.5,1039.6 C242.1,1036.9 245.8,1033.6 251.2,1029.8 C256.6,1026.0 265.0,1020.1 270.0,1016.8 C275.0,1013.5 277.8,1011.9 281.4,1010.0 C285.0,1008.1 289.1,1006.0 291.7,1005.4 C294.3,1004.8 295.4,1005.6 296.9,1006.5 C298.5,1007.5 299.4,1010.0 300.8,1011.1 C302.2,1012.2 303.9,1012.2 305.4,1013.4 C306.9,1014.6 308.4,1018.8 310.0,1018.4 C311.5,1018.0 313.0,1013.0 314.5,1011.1 C316.0,1009.2 317.8,1007.6 319.1,1007.0 C320.4,1006.4 321.4,1007.3 322.5,1007.7 C323.7,1008.1 324.8,1010.3 325.9,1009.3 C327.1,1008.2 327.3,1003.3 329.4,1001.5 C331.5,999.7 333.2,999.4 338.5,998.5 C343.8,997.7 353.7,996.9 361.3,996.3 C368.9,995.6 375.8,995.0 384.2,994.7 C392.5,994.3 402.4,993.9 411.6,994.0 C420.7,994.0 429.2,994.7 438.9,995.1 C448.7,995.5 462.7,996.0 470.0,996.3 C477.3,996.6 476.9,997.2 482.8,996.9 C488.8,996.7 498.8,995.2 505.7,994.7 C512.5,994.1 518.2,993.7 523.9,993.7 C529.6,993.7 535.5,994.0 539.9,994.7 C544.3,995.3 547.7,996.3 550.2,997.9 C552.7,999.5 553.3,1001.7 554.7,1004.2 C556.2,1006.8 557.1,1011.5 558.6,1012.9 C560.2,1014.4 562.2,1012.8 563.9,1012.9 C565.5,1013.1 566.9,1012.0 568.4,1013.8 C570.0,1015.6 571.6,1020.4 573.0,1023.7 C574.4,1026.9 575.4,1031.4 576.9,1033.5 C578.4,1035.6 580.7,1036.1 582.1,1036.2 C583.6,1036.4 584.0,1036.3 585.6,1034.4 C587.1,1032.5 589.4,1028.1 591.3,1024.8 C593.2,1021.5 595.1,1017.1 597.0,1014.5 C598.9,1011.9 601.0,1010.2 602.7,1009.3 C604.4,1008.3 605.7,1009.3 607.3,1008.8 C608.8,1008.4 610.5,1006.1 611.8,1006.5 C613.2,1006.9 614.1,1009.1 615.3,1011.1 C616.4,1013.1 617.2,1016.4 618.7,1018.4 C620.2,1020.4 622.5,1022.2 624.4,1023.0 C626.3,1023.7 628.4,1022.7 630.1,1023.0 C631.8,1023.3 633.1,1025.7 634.7,1024.8 C636.2,1023.9 637.7,1018.9 639.2,1017.5 C640.7,1016.0 642.3,1016.0 643.8,1016.1 C645.3,1016.2 646.6,1018.5 648.4,1017.9 C650.1,1017.4 653.8,1013.1 654.1,1012.9 C654.3,1012.7 649.9,1016.8 650.0,1016.8 C650.1,1016.8 652.9,1012.9 654.6,1012.9 C656.3,1012.9 658.6,1016.2 660.3,1016.8 C662.0,1017.5 662.9,1017.6 664.8,1016.8 C666.7,1016.0 669.8,1012.8 671.7,1012.2 C673.6,1011.7 674.9,1011.9 676.3,1013.4 C677.6,1014.9 678.5,1018.9 679.7,1021.4 C680.8,1023.8 681.8,1026.8 683.1,1028.2 C684.4,1029.6 686.1,1028.7 687.7,1029.8 C689.2,1031.0 690.7,1034.4 692.2,1035.1 C693.8,1035.8 695.1,1033.5 696.8,1033.9 C698.5,1034.3 700.6,1036.5 702.5,1037.4 C704.4,1038.2 706.7,1039.2 708.2,1038.9 C709.7,1038.7 710.3,1038.1 711.6,1035.8 C713.0,1033.4 714.5,1028.9 716.2,1024.8 C717.9,1020.7 719.8,1015.1 721.9,1011.1 C724.0,1007.1 726.3,1003.0 728.8,1000.8 C731.2,998.6 734.5,998.6 736.8,997.9 C739.0,997.1 740.6,996.9 742.5,996.3 C744.4,995.6 746.1,994.2 748.2,994.0 C750.3,993.8 752.7,994.4 755.0,995.1 C757.3,995.9 759.4,997.6 761.9,998.5 C764.3,999.5 767.2,999.5 769.9,1000.8 C772.5,1002.2 775.2,1004.6 777.9,1006.5 C780.5,1008.4 783.4,1011.6 785.8,1012.2 C788.3,1012.9 790.3,1010.4 792.7,1010.6 C795.1,1010.8 797.8,1013.4 800.2,1013.4 C802.7,1013.4 805.2,1011.0 807.5,1010.6 C809.9,1010.3 812.3,1011.7 814.4,1011.1 C816.5,1010.5 818.0,1007.9 820.1,1007.0 C822.2,1006.0 824.8,1006.1 826.9,1005.4 C829.0,1004.6 830.9,1003.0 832.6,1002.4 C834.4,1001.8 835.8,1003.8 837.2,1002.0 C838.7,1000.2 840.6,993.4 841.3,991.7 L841.5,991.7" fill="none" stroke="#F50000" stroke-width="5.5" stroke-linejoin="round" stroke-linecap="butt"/>
<path d="M83.7,1223.9 L83.7,1153.4" fill="none" stroke="#000000" stroke-width="3.2"/>
<path d="M841.5,1223.9 L841.5,1139.0" fill="none" stroke="#000000" stroke-width="3.2"/>
<path d="M85.7,1155.0 L84.1,1155.0 C85.7,1154.3 90.2,1152.5 93.7,1151.1 C97.2,1149.7 101.3,1147.9 105.1,1146.5 C108.9,1145.1 113.1,1143.9 116.5,1142.9 C120.0,1141.8 122.0,1140.6 125.7,1140.1 C129.3,1139.7 135.2,1139.5 138.2,1140.1 C141.3,1140.7 141.8,1141.8 143.9,1143.5 C146.0,1145.3 148.7,1147.9 150.8,1150.4 C152.9,1152.9 155.0,1155.7 156.5,1158.4 C158.0,1161.0 158.2,1163.6 159.9,1166.4 C161.6,1169.1 164.1,1172.0 166.8,1174.8 C169.4,1177.6 172.5,1180.8 175.9,1183.0 C179.3,1185.3 183.1,1186.9 187.3,1188.5 C191.5,1190.1 196.8,1191.9 201.0,1192.6 C205.2,1193.4 208.2,1193.5 212.4,1193.1 C216.6,1192.7 221.6,1191.5 226.1,1190.3 C230.7,1189.2 235.3,1187.9 239.8,1186.2 C244.4,1184.5 248.5,1182.8 253.5,1180.1 C258.5,1177.3 265.4,1172.6 270.0,1169.8 C274.6,1166.9 277.6,1165.0 281.4,1162.9 C285.2,1160.9 290.2,1157.9 292.8,1157.2 C295.5,1156.6 295.7,1157.7 297.4,1158.8 C299.1,1160.0 301.4,1162.6 303.1,1164.1 C304.8,1165.5 306.3,1166.4 307.7,1167.5 C309.0,1168.7 310.0,1171.4 311.1,1170.9 C312.2,1170.5 313.2,1166.4 314.5,1164.8 C315.9,1163.1 317.7,1162.1 319.1,1161.1 C320.5,1160.1 321.7,1158.8 323.0,1158.8 C324.2,1158.8 325.6,1162.0 326.6,1161.1 C327.7,1160.3 327.4,1156.1 329.4,1153.8 C331.3,1151.5 333.9,1149.0 338.5,1147.4 C343.1,1145.8 349.9,1145.4 356.8,1144.2 C363.6,1143.1 371.2,1141.4 379.6,1140.6 C388.0,1139.7 397.9,1139.0 407.0,1139.0 C416.1,1138.9 423.9,1139.7 434.4,1140.1 C444.9,1140.5 461.9,1140.9 470.0,1141.3 C478.1,1141.6 477.6,1142.5 482.8,1142.4 C488.0,1142.3 495.0,1141.1 501.1,1140.6 C507.2,1140.0 513.7,1139.0 519.4,1139.0 C525.1,1139.0 530.6,1139.4 535.3,1140.6 C540.1,1141.7 544.9,1143.8 547.9,1145.8 C550.9,1147.8 551.9,1149.2 553.6,1152.7 C555.3,1156.1 556.8,1163.7 558.2,1166.4 C559.5,1169.0 560.4,1168.7 561.6,1168.7 C562.8,1168.7 564.1,1165.8 565.5,1166.4 C566.8,1166.9 568.1,1169.6 569.6,1172.1 C571.0,1174.6 572.6,1178.9 574.2,1181.2 C575.7,1183.6 577.2,1185.3 578.7,1186.2 C580.2,1187.2 581.8,1187.6 583.3,1186.9 C584.8,1186.3 586.3,1184.4 587.9,1182.4 C589.4,1180.3 590.9,1177.0 592.4,1174.4 C593.9,1171.7 595.3,1168.6 597.0,1166.4 C598.7,1164.2 601.0,1162.1 602.7,1161.1 C604.4,1160.2 605.7,1161.4 607.3,1160.7 C608.8,1159.9 610.4,1156.4 611.8,1156.6 C613.2,1156.7 614.4,1159.4 615.7,1161.8 C617.0,1164.2 618.2,1168.7 619.8,1170.9 C621.5,1173.2 623.6,1175.5 625.5,1175.5 C627.4,1175.5 629.5,1171.7 631.2,1170.9 C632.9,1170.2 634.1,1172.0 635.8,1170.9 C637.5,1169.9 639.7,1165.4 641.5,1164.8 C643.3,1164.1 644.7,1167.4 646.8,1167.1 C648.8,1166.7 653.1,1162.5 653.6,1162.5 C654.1,1162.5 649.8,1167.1 650.0,1167.1 C650.2,1167.1 653.0,1162.6 654.6,1162.5 C656.2,1162.4 658.0,1165.5 659.6,1166.4 C661.2,1167.3 662.3,1168.6 664.2,1168.0 C666.0,1167.3 668.5,1163.2 670.5,1162.5 C672.6,1161.7 674.7,1162.0 676.3,1163.4 C677.8,1164.8 678.5,1168.3 679.7,1170.9 C680.8,1173.6 681.6,1177.7 683.1,1179.4 C684.6,1181.1 687.1,1180.1 688.8,1181.2 C690.5,1182.4 691.9,1185.8 693.4,1186.2 C694.9,1186.7 696.2,1183.7 697.9,1183.9 C699.7,1184.2 701.8,1186.9 703.7,1187.6 C705.5,1188.3 707.4,1188.6 708.9,1188.1 C710.4,1187.6 711.4,1186.9 712.8,1184.6 C714.2,1182.4 715.8,1178.2 717.4,1174.4 C718.9,1170.6 720.4,1165.2 721.9,1161.8 C723.4,1158.4 725.2,1156.7 726.5,1153.8 C727.8,1151.0 728.2,1146.4 729.9,1144.7 C731.6,1143.0 734.7,1143.9 736.8,1143.5 C738.9,1143.2 740.6,1143.2 742.5,1142.4 C744.3,1141.6 745.6,1139.3 747.7,1139.0 C749.8,1138.7 752.7,1139.3 755.0,1140.6 C757.4,1141.8 759.6,1145.5 761.9,1146.5 C764.2,1147.5 766.4,1145.7 768.7,1146.5 C771.0,1147.3 772.7,1149.3 775.6,1151.1 C778.4,1152.9 783.2,1156.5 785.8,1157.2 C788.5,1158.0 789.2,1155.3 791.6,1155.6 C793.9,1156.0 797.6,1159.4 800.2,1159.5 C802.9,1159.6 805.2,1156.5 807.5,1156.1 C809.9,1155.7 812.3,1157.8 814.4,1157.2 C816.5,1156.7 818.2,1153.8 820.1,1152.7 C822.0,1151.5 823.7,1151.4 825.8,1150.4 C827.9,1149.4 830.7,1147.5 832.6,1146.5 C834.6,1145.6 835.9,1145.9 837.2,1144.7 C838.5,1143.4 840.1,1139.9 840.6,1139.0 L841.5,1139.0" fill="none" stroke="#000000" stroke-width="5.5" stroke-linejoin="round" stroke-linecap="butt"/>
<g class="t">
<line x1="729.1" y1="84.9" x2="807.9" y2="84.9" stroke="#808000" stroke-width="5.4" stroke-linecap="round"/>
<text transform="translate(818.00,98.30) scale(1,1.045)" font-size="35.5" fill="#808000">8</text>
<line x1="731.8000000000001" y1="231.4" x2="808.8" y2="231.4" stroke="#00FAFA" stroke-width="5.4" stroke-linecap="round"/>
<text transform="translate(817.60,243.80) scale(1,1.045)" font-size="35.5" fill="#00FAFA">7</text>
<line x1="730.0" y1="376.3" x2="807.9" y2="376.3" stroke="#FA00FA" stroke-width="5.4" stroke-linecap="round"/>
<text transform="translate(817.70,388.10) scale(1,1.045)" font-size="35.5" fill="#FA00FA">6</text>
<line x1="733.3000000000001" y1="522.0" x2="807.9" y2="522.0" stroke="#00FA00" stroke-width="5.4" stroke-linecap="round"/>
<text transform="translate(818.60,533.50) scale(1,1.045)" font-size="35.5" fill="#00FA00">5</text>
<line x1="724.9" y1="666.8" x2="807.0" y2="666.8" stroke="#ED8225" stroke-width="5.4" stroke-linecap="round"/>
<text transform="translate(816.80,680.00) scale(1,1.045)" font-size="35.5" fill="#ED8225">4</text>
<line x1="724.2" y1="813.8" x2="805.1999999999999" y2="813.8" stroke="#0000F5" stroke-width="5.4" stroke-linecap="round"/>
<text transform="translate(815.90,827.50) scale(1,1.045)" font-size="35.5" fill="#0000F5">3</text>
<line x1="724.9" y1="958.0" x2="807.0" y2="958.0" stroke="#F50000" stroke-width="5.4" stroke-linecap="round"/>
<text transform="translate(817.70,971.40) scale(1,1.045)" font-size="35.5" fill="#F50000">2</text>
<line x1="725.4" y1="1104.9" x2="806.6" y2="1104.9" stroke="#000000" stroke-width="5.4" stroke-linecap="round"/>
<path d="M820.10,1098.40 Q824.17,1095.02 826.25,1091.90 L832.10,1091.90 L832.10,1117.90 L826.77,1117.90 L826.77,1098.92 Q823.13,1101.78 820.10,1103.08 Z" fill="#000000"/>
<text transform="translate(173.80,107.00) scale(1,1.03)" font-size="32" fill="#000">O</text>
<rect x="198.20" y="99.00" width="14.60" height="2.80" fill="#000"/>
<text transform="translate(213.00,107.00) scale(1,1.03)" font-size="32" fill="#000">H</text>
<text transform="translate(281.40,102.10) scale(1,1.03)" font-size="32" fill="#000">C</text>
<rect x="303.70" y="92.00" width="17.90" height="3.20" fill="#000"/>
<text transform="translate(322.00,102.10) scale(1,1.03)" font-size="32" fill="#000">H</text>
<text transform="translate(555.40,101.20) scale(1,1.03)" font-size="32" fill="#000">C</text>
<rect x="579.20" y="84.40" width="16.00" height="3.20" fill="#000"/>
<rect x="579.20" y="91.20" width="16.00" height="3.40" fill="#000"/>
<text transform="translate(597.00,101.20) scale(1,1.03)" font-size="32" fill="#000">O</text>
<text transform="translate(658.40,102.40) scale(1,1.03)" font-size="32" fill="#000">C</text>
<rect x="680.70" y="92.00" width="18.10" height="3.20" fill="#000"/>
<text transform="translate(699.20,102.40) scale(1,1.03)" font-size="32" fill="#000">O</text>
<text transform="translate(35.6,572.0) rotate(-90) scale(1,1.05)" font-size="42" text-anchor="middle">T (%)</text>
<text x="260.30" y="1329.10" font-size="39" fill="#000">Wavenumber (cm</text>
<rect x="586.60" y="1303.80" width="6.90" height="3.80" fill="#000"/>
<path d="M596.00,1298.80 Q598.13,1296.51 599.54,1294.40 L603.50,1294.40 L603.50,1312.00 L599.89,1312.00 L599.89,1299.15 Q597.43,1301.09 596.00,1301.97 Z" fill="#000"/>
<text x="610.50" y="1328.30" font-size="39" fill="#000">)</text>
</g>
</svg>
</body></html>
